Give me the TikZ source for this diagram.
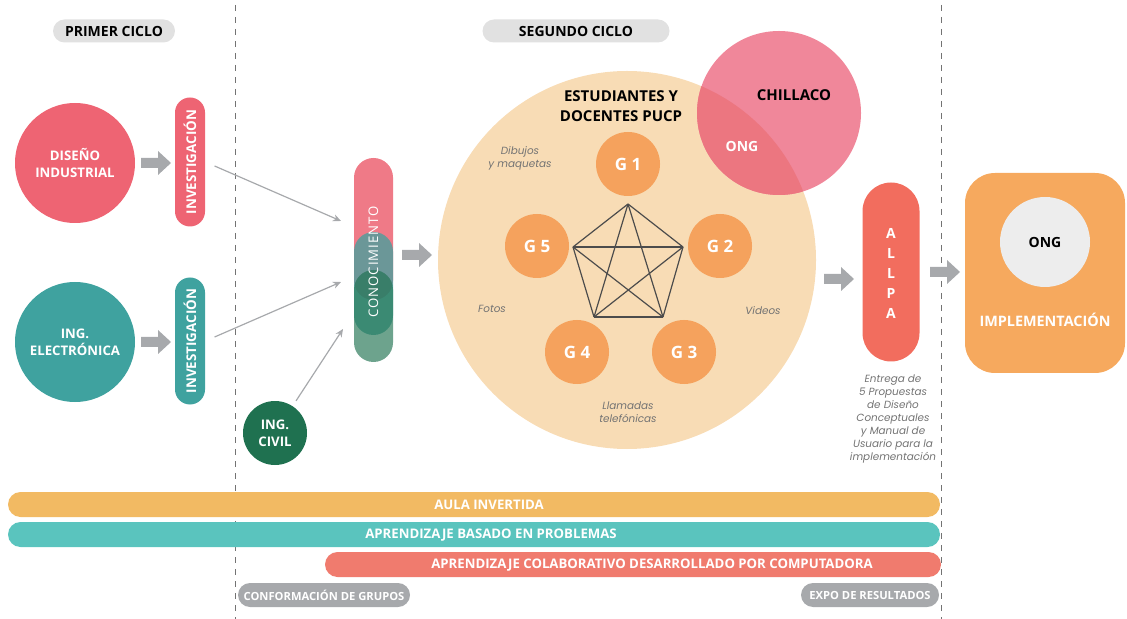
\documentclass[tikz,border=0pt]{standalone}
\usepackage{fontspec}
\setmainfont{Open Sans}
\newfontfamily\notefont{Poppins}
\usetikzlibrary{arrows.meta}

% Colores del esquema
\definecolor{rojoDI}{HTML}{EE6473}
\definecolor{tealIE}{HTML}{3FA29F}
\definecolor{verdeIC}{HTML}{1F7150}
\definecolor{rosaCO}{HTML}{EF7A87}
\definecolor{beige}{HTML}{F8DCB5}
\definecolor{naranja}{HTML}{F5A25D}
\definecolor{rosaCH}{HTML}{F0879A}
\definecolor{rosaON}{HTML}{EC7680}
\definecolor{coral}{HTML}{F26D5E}
\definecolor{naranjaIM}{HTML}{F6A95E}
\definecolor{grisclaro}{HTML}{E1E1E1}
\definecolor{grisONG}{HTML}{EDEDED}
\definecolor{grisflecha}{HTML}{A7A9AC}
\definecolor{amarillo}{HTML}{F2BA63}
\definecolor{turquesa}{HTML}{5AC4BE}
\definecolor{salmon}{HTML}{F07B6E}

\tikzset{
  ciclo/.style={fill=grisclaro, rounded corners=5.75pt, minimum height=11.5pt,
    inner sep=0pt, font=\bfseries\fontsize{7}{8}\selectfont},
  area/.style={circle, minimum size=60pt, inner sep=0pt, text=white,
    align=center, font=\bfseries\fontsize{6.6}{8.5}\selectfont},
  pill/.style={rounded corners=7.5pt, minimum width=64.5pt, minimum height=15pt,
    inner sep=0pt, text=white, rotate=90, font=\bfseries\fontsize{6.7}{8}\selectfont},
  grupo/.style={circle, fill=naranja, minimum size=32pt, inner sep=0pt,
    text=white, font=\bfseries\fontsize{8.5}{10}\selectfont},
  nota/.style={text=gray!90!black, align=center,
    font=\notefont\itshape\fontsize{5.2}{6.5}\selectfont},
  enlace/.style={draw=grisflecha, line width=0.6pt,
    -{Stealth[length=4pt,width=3.5pt]}},
  trazo/.style={draw=black!70, line width=0.6pt},
  divisor/.style={draw=black!55, line width=0.4pt, dash pattern=on 3pt off 3pt},
  barra/.style={rounded corners=6.25pt},
  rotulo/.style={text=white, inner sep=0pt, font=\bfseries\fontsize{6.6}{8}\selectfont},
  hito/.style={fill=grisflecha, rounded corners=6pt, minimum height=12pt,
    inner sep=0pt, text=white, font=\bfseries\fontsize{5.6}{7}\selectfont},
  % flecha gruesa gris, centrada en el punto dado
  pics/flecha/.style={code={
    \fill[grisflecha] (-15,-5) -- (2,-5) -- (2,-12) -- (15,0)
      -- (2,12) -- (2,5) -- (-15,5) -- cycle;}},
}

\begin{document}
\begin{tikzpicture}[x=0.5pt,y=-0.5pt]

\useasboundingbox (0,0) rectangle (1127,619);

% Lineas divisorias de ciclos
\draw[divisor] (235,5) -- (235,619);
\draw[divisor] (941,5) -- (941,619);

% Rotulos de ciclo
\node[ciclo, minimum width=61pt] (ciclo1) at (114,31) {PRIMER CICLO};
\node[ciclo, minimum width=93.5pt] (ciclo2) at (576,31) {SEGUNDO CICLO};

% Primer ciclo: especialidades e investigacion
\node[area, fill=rojoDI] (disenio) at (75,163) {DISEÑO\\INDUSTRIAL};
\node[area, fill=tealIE] (electro) at (75,342) {ING.\\ELECTRÓNICA};
\pic (fl1) at (156,163) {flecha};
\pic (fl2) at (156,342) {flecha};
\node[pill, fill=rojoDI] (inv1) at (190,162) {INVESTIGACIÓN};
\node[pill, fill=tealIE, minimum width=63.5pt] (inv2) at (190,341) {INVESTIGACIÓN};
\node[area, fill=verdeIC, minimum size=32pt] (civil) at (275,433) {ING.\\CIVIL};

% Conocimiento: capas superpuestas
\fill[rosaCO, rounded corners=9.75pt] (354,158) rectangle (393,300);
\fill[tealIE, opacity=.75, rounded corners=9.75pt] (354,232) rectangle (393,335);
\fill[verdeIC, opacity=.65, rounded corners=9.75pt] (354,270) rectangle (393,362);
\node[rotate=90, text=white, inner sep=0pt,
  font=\fontsize{6.6}{8}\selectfont\addfontfeatures{LetterSpace=7}]
  (cono) at (373.5,262) {CONOCIMIENTO};

% Llegadas a conocimiento
\coordinate (c1) at (341,221);
\coordinate (c2) at (341,282);
\coordinate (c3) at (343,329);
\draw[enlace, shorten <=5pt] (inv1.south) -- (c1);
\draw[enlace, shorten <=5pt] (inv2.south) -- (c2);
\draw[enlace, shorten <=3pt] (civil) -- (c3);

\pic (fl3) at (417,255) {flecha};

% Segundo ciclo: grupos de trabajo
\node[circle, fill=beige, minimum size=189pt, inner sep=0pt] (pucp) at (627,260) {};
\node[circle, fill=rosaCH, minimum size=82pt, inner sep=0pt] (chillaco) at (779,113) {};
\begin{scope}
  \clip (627,260) circle[radius=94.5pt];
  \fill[rosaON] (779,113) circle[radius=41pt];
\end{scope}
\node[font=\bfseries\fontsize{7.5}{9}\selectfont] (chtxt) at (794,95) {CHILLACO};
\node[text=white, font=\bfseries\fontsize{7}{8}\selectfont] (ong1) at (742,146) {ONG};
\node[align=center, font=\bfseries\fontsize{7.5}{10}\selectfont]
  (estud) at (621,106) {ESTUDIANTES Y\\DOCENTES PUCP};

\node[grupo] (g1) at (628,164) {G 1};
\node[grupo] (g2) at (720,246) {G 2};
\node[grupo] (g3) at (684,352) {G 3};
\node[grupo] (g4) at (577,352) {G 4};
\node[grupo] (g5) at (537,246) {G 5};

% Pentagono con todas sus diagonales
\coordinate (v1) at (628,204);
\coordinate (v2) at (683,247);
\coordinate (v3) at (663,317);
\coordinate (v4) at (594,317);
\coordinate (v5) at (573,247);
\foreach \a/\b in {1/2,1/3,1/4,1/5,2/3,2/4,2/5,3/4,3/5,4/5}
  \draw[trazo] (v\a) -- (v\b);

% Medios de trabajo
\node[nota] (dibujos) at (520,158) {Dibujos\\y maquetas};
\node[nota] (fotos) at (492,309) {Fotos};
\node[nota] (videos) at (763,311) {Videos};
\node[nota] (llamadas) at (628,412) {Llamadas\\telefónicas};

% Entrega ALLPA
\pic (fl4) at (839,279) {flecha};
\node[fill=coral, rounded corners=14.25pt, minimum width=28.5pt,
  minimum height=89.5pt, inner sep=0pt] (allpa) at (891,272) {};
\node[text=white, align=center, font=\bfseries\fontsize{7}{10}\selectfont]
  (allpatxt) at (891,273) {A\\L\\L\\P\\A};
\node[nota] (entrega) at (893,419)
  {Entrega de\\5 Propuestas\\de Diseño\\Conceptuales\\y Manual de\\Usuario para la\\implementación};

% Implementacion
\pic (fl5) at (945,272) {flecha};
\node[fill=naranjaIM, rounded corners=15pt, minimum width=80pt,
  minimum height=100pt, inner sep=0pt] (impl) at (1045,273) {};
\node[circle, fill=grisONG, minimum size=45pt, inner sep=0pt,
  font=\bfseries\fontsize{7}{8}\selectfont] (ong2) at (1045,242) {ONG};
\node[text=white, font=\bfseries\fontsize{7.2}{8}\selectfont]
  (impltxt) at (1045,320) {IMPLEMENTACIÓN};

% Estrategias de aprendizaje
\fill[barra, amarillo] (8,492) rectangle (940,517);
\fill[barra, turquesa] (8,522) rectangle (940,547);
\fill[barra, salmon] (325,552) rectangle (941,577);
\node[rotulo] (aula) at (489,505) {AULA INVERTIDA};
\node[rotulo] (abp) at (491,535) {APRENDIZAJE BASADO EN PROBLEMAS};
\node[rotulo] (acc) at (652,565) {APRENDIZAJE COLABORATIVO DESARROLLADO POR COMPUTADORA};

% Hitos
\node[hito, minimum width=86pt] (grupos) at (324,595) {CONFORMACIÓN DE GRUPOS};
\node[hito, minimum width=69pt] (expo) at (870,595) {EXPO DE RESULTADOS};

\end{tikzpicture}
\end{document}
